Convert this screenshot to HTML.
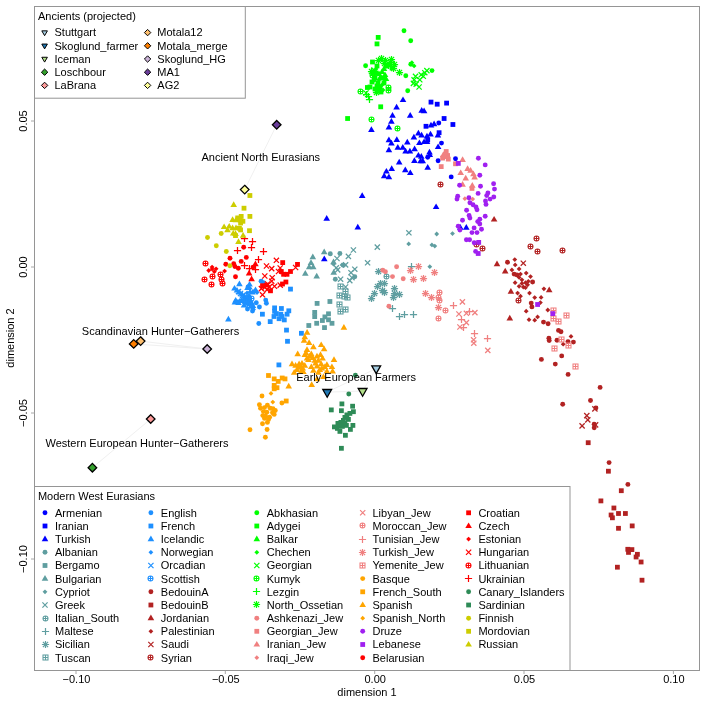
<!DOCTYPE html>
<html><head><meta charset="utf-8"><title>PCA West Eurasians</title>
<style>html,body{margin:0;padding:0;background:#fff}svg{display:block}text{font-family:"Liberation Sans",sans-serif;fill:#000}</style></head><body>
<svg width="706" height="702" viewBox="0 0 706 702">
<rect width="706" height="702" fill="#fff"/>
<g stroke="#f0f0f0" stroke-width="1" fill="none"><path d="M276.7 124.8L244.7 189.6"/><path d="M133.7 343.9L207.2 349"/><path d="M140.6 341.1L207.2 349"/><path d="M150.7 419L92.4 467.7"/><path d="M376.2 368.5L327.2 392.1"/><path d="M327.2 392.1L362.6 391.1"/><path d="M362.6 391.1L376.2 368.5"/></g>
<g stroke-width="1.25">
<circle cx="438.8" cy="123" r="2.45" fill="#0000FF"/><circle cx="441.5" cy="143.1" r="2.45" fill="#0000FF"/><circle cx="427.7" cy="157.2" r="2.45" fill="#0000FF"/><circle cx="438.1" cy="160.8" r="2.45" fill="#0000FF"/><circle cx="455.5" cy="158.8" r="2.45" fill="#0000FF"/><circle cx="451.2" cy="176.9" r="2.45" fill="#0000FF"/>
<rect x="428.6" y="99.7" width="4.8" height="4.8" fill="#0000FF"/><rect x="434.8" y="101.8" width="4.8" height="4.8" fill="#0000FF"/><rect x="444.2" y="100.7" width="4.8" height="4.8" fill="#0000FF"/><rect x="441.7" y="116.1" width="4.8" height="4.8" fill="#0000FF"/><rect x="450.5" y="122.1" width="4.8" height="4.8" fill="#0000FF"/><rect x="423.6" y="123.9" width="4.8" height="4.8" fill="#0000FF"/><rect x="436.7" y="130.3" width="4.8" height="4.8" fill="#0000FF"/><rect x="425.3" y="137.5" width="4.8" height="4.8" fill="#0000FF"/>
<path d="M403 96.4l3.3 5.7h-6.6z" fill="#0000FF"/><path d="M396.6 103.8l3.3 5.7h-6.6z" fill="#0000FF"/><path d="M392.5 112l3.3 5.7h-6.6z" fill="#0000FF"/><path d="M410.2 112l3.3 5.7h-6.6z" fill="#0000FF"/><path d="M421.7 107.1l3.3 5.7h-6.6z" fill="#0000FF"/><path d="M424.1 107.5l3.3 5.7h-6.6z" fill="#0000FF"/><path d="M391.4 118l3.3 5.7h-6.6z" fill="#0000FF"/><path d="M388.9 123.7l3.3 5.7h-6.6z" fill="#0000FF"/><path d="M371.4 126.3l3.3 5.7h-6.6z" fill="#0000FF"/><path d="M431 121.7l3.3 5.7h-6.6z" fill="#0000FF"/><path d="M434.1 120.6l3.3 5.7h-6.6z" fill="#0000FF"/><path d="M418.4 129.8l3.3 5.7h-6.6z" fill="#0000FF"/><path d="M421.6 131.7l3.3 5.7h-6.6z" fill="#0000FF"/><path d="M413.9 133.8l3.3 5.7h-6.6z" fill="#0000FF"/><path d="M427 132.7l3.3 5.7h-6.6z" fill="#0000FF"/><path d="M430.5 130.8l3.3 5.7h-6.6z" fill="#0000FF"/><path d="M388.9 136.5l3.3 5.7h-6.6z" fill="#0000FF"/><path d="M396.8 136.3l3.3 5.7h-6.6z" fill="#0000FF"/><path d="M391.4 139.8l3.3 5.7h-6.6z" fill="#0000FF"/><path d="M407.3 138.8l3.3 5.7h-6.6z" fill="#0000FF"/><path d="M419.4 139.4l3.3 5.7h-6.6z" fill="#0000FF"/><path d="M424.1 138.4l3.3 5.7h-6.6z" fill="#0000FF"/><path d="M427 138.4l3.3 5.7h-6.6z" fill="#0000FF"/><path d="M437.9 131.7l3.3 5.7h-6.6z" fill="#0000FF"/><path d="M397.8 144.1l3.3 5.7h-6.6z" fill="#0000FF"/><path d="M402.8 144.1l3.3 5.7h-6.6z" fill="#0000FF"/><path d="M388.9 146.5l3.3 5.7h-6.6z" fill="#0000FF"/><path d="M405.6 147.7l3.3 5.7h-6.6z" fill="#0000FF"/><path d="M409.9 147.7l3.3 5.7h-6.6z" fill="#0000FF"/><path d="M414.6 145.5l3.3 5.7h-6.6z" fill="#0000FF"/><path d="M438.1 143.4l3.3 5.7h-6.6z" fill="#0000FF"/><path d="M429.5 148.7l3.3 5.7h-6.6z" fill="#0000FF"/><path d="M429.8 151.2l3.3 5.7h-6.6z" fill="#0000FF"/><path d="M418.4 151.9l3.3 5.7h-6.6z" fill="#0000FF"/><path d="M421.3 153.1l3.3 5.7h-6.6z" fill="#0000FF"/><path d="M414.4 157.2l3.3 5.7h-6.6z" fill="#0000FF"/><path d="M420.6 157.6l3.3 5.7h-6.6z" fill="#0000FF"/><path d="M422.7 157.6l3.3 5.7h-6.6z" fill="#0000FF"/><path d="M399.2 158.8l3.3 5.7h-6.6z" fill="#0000FF"/><path d="M427.7 164l3.3 5.7h-6.6z" fill="#0000FF"/><path d="M391.7 165.2l3.3 5.7h-6.6z" fill="#0000FF"/><path d="M405.3 166.5l3.3 5.7h-6.6z" fill="#0000FF"/><path d="M410.3 169.4l3.3 5.7h-6.6z" fill="#0000FF"/><path d="M386.4 167.9l3.3 5.7h-6.6z" fill="#0000FF"/><path d="M384.2 172.6l3.3 5.7h-6.6z" fill="#0000FF"/><path d="M388.9 173.6l3.3 5.7h-6.6z" fill="#0000FF"/><path d="M436.1 203.4l3.3 5.7h-6.6z" fill="#0000FF"/><path d="M460.3 224l3.3 5.7h-6.6z" fill="#0000FF"/><path d="M466.3 224l3.3 5.7h-6.6z" fill="#0000FF"/><path d="M362.2 192.2l3.3 5.7h-6.6z" fill="#0000FF"/><path d="M326.7 215.1l3.3 5.7h-6.6z" fill="#0000FF"/><path d="M357.8 223.7l3.3 5.7h-6.6z" fill="#0000FF"/><path d="M324.3 255.6l3.3 5.7h-6.6z" fill="#0000FF"/>
<circle cx="330.3" cy="253.8" r="2.45" fill="#5F9EA0"/><circle cx="339.9" cy="253.5" r="2.45" fill="#5F9EA0"/><circle cx="343.4" cy="265.2" r="2.45" fill="#5F9EA0"/><circle cx="335.3" cy="279.2" r="2.45" fill="#5F9EA0"/><circle cx="354.8" cy="276.7" r="2.45" fill="#5F9EA0"/>
<rect x="314.7" y="301" width="4.8" height="4.8" fill="#5F9EA0"/><rect x="327.5" y="299.1" width="4.8" height="4.8" fill="#5F9EA0"/><rect x="312.3" y="310" width="4.8" height="4.8" fill="#5F9EA0"/><rect x="312.3" y="314.2" width="4.8" height="4.8" fill="#5F9EA0"/><rect x="326.1" y="311.4" width="4.8" height="4.8" fill="#5F9EA0"/><rect x="322.5" y="314.5" width="4.8" height="4.8" fill="#5F9EA0"/><rect x="320" y="318.1" width="4.8" height="4.8" fill="#5F9EA0"/><rect x="326.1" y="317.4" width="4.8" height="4.8" fill="#5F9EA0"/><rect x="314.3" y="320.9" width="4.8" height="4.8" fill="#5F9EA0"/><rect x="329.6" y="320.9" width="4.8" height="4.8" fill="#5F9EA0"/><rect x="306.4" y="323.1" width="4.8" height="4.8" fill="#5F9EA0"/><rect x="322.1" y="325.2" width="4.8" height="4.8" fill="#5F9EA0"/>
<path d="M324.2 248.5l3.3 5.7h-6.6z" fill="#5F9EA0"/><path d="M312.8 253.5l3.3 5.7h-6.6z" fill="#5F9EA0"/><path d="M311 259.2l3.3 5.7h-6.6z" fill="#5F9EA0"/><path d="M309.2 263.5l3.3 5.7h-6.6z" fill="#5F9EA0"/><path d="M313.2 263.5l3.3 5.7h-6.6z" fill="#5F9EA0"/><path d="M305.3 270.1l3.3 5.7h-6.6z" fill="#5F9EA0"/><path d="M316.7 272.7l3.3 5.7h-6.6z" fill="#5F9EA0"/><path d="M333.5 258.5l3.3 5.7h-6.6z" fill="#5F9EA0"/><path d="M333.7 269.1l3.3 5.7h-6.6z" fill="#5F9EA0"/>
<path d="M436.7 231.6l2.4 2.4l-2.4 2.4l-2.4 -2.4z" fill="#5F9EA0"/><path d="M452.5 231.2l2.4 2.4l-2.4 2.4l-2.4 -2.4z" fill="#5F9EA0"/><path d="M333.5 261.8l2.4 2.4l-2.4 2.4l-2.4 -2.4z" fill="#5F9EA0"/><path d="M342 262.5l2.4 2.4l-2.4 2.4l-2.4 -2.4z" fill="#5F9EA0"/><path d="M408.7 241.5l2.4 2.4l-2.4 2.4l-2.4 -2.4z" fill="#5F9EA0"/><path d="M431.9 242.5l2.4 2.4l-2.4 2.4l-2.4 -2.4z" fill="#5F9EA0"/><path d="M434.8 243.7l2.4 2.4l-2.4 2.4l-2.4 -2.4z" fill="#5F9EA0"/><path d="M429.8 264.3l2.4 2.4l-2.4 2.4l-2.4 -2.4z" fill="#5F9EA0"/>
<path d="M350.8 247.4l5.2 5.2m0 -5.2l-5.2 5.2" stroke="#5F9EA0" fill="none"/><path d="M374.7 244.5l5.2 5.2m0 -5.2l-5.2 5.2" stroke="#5F9EA0" fill="none"/><path d="M345.8 253.8l5.2 5.2m0 -5.2l-5.2 5.2" stroke="#5F9EA0" fill="none"/><path d="M365 260.2l5.2 5.2m0 -5.2l-5.2 5.2" stroke="#5F9EA0" fill="none"/><path d="M334.4 255.9l5.2 5.2m0 -5.2l-5.2 5.2" stroke="#5F9EA0" fill="none"/><path d="M335.1 267.3l5.2 5.2m0 -5.2l-5.2 5.2" stroke="#5F9EA0" fill="none"/><path d="M343 262.3l5.2 5.2m0 -5.2l-5.2 5.2" stroke="#5F9EA0" fill="none"/><path d="M352.2 266.6l5.2 5.2m0 -5.2l-5.2 5.2" stroke="#5F9EA0" fill="none"/><path d="M348.4 270.1l5.2 5.2m0 -5.2l-5.2 5.2" stroke="#5F9EA0" fill="none"/><path d="M338 276.6l5.2 5.2m0 -5.2l-5.2 5.2" stroke="#5F9EA0" fill="none"/><path d="M347.2 278l5.2 5.2m0 -5.2l-5.2 5.2" stroke="#5F9EA0" fill="none"/><path d="M349.4 275.1l5.2 5.2m0 -5.2l-5.2 5.2" stroke="#5F9EA0" fill="none"/><path d="M333.7 265.2l5.2 5.2m0 -5.2l-5.2 5.2" stroke="#5F9EA0" fill="none"/><path d="M343 284.4l5.2 5.2m0 -5.2l-5.2 5.2" stroke="#5F9EA0" fill="none"/><path d="M406.3 230.2l5.2 5.2m0 -5.2l-5.2 5.2" stroke="#5F9EA0" fill="none"/>
<g stroke="#5F9EA0" stroke-width="1.05" fill="none"><circle cx="386.5" cy="276.5" r="2.5"/><path d="M384 276.5h5m-2.5 -2.5v5"/></g>
<path d="M407.9 266.5h7.2m-3.6 -3.6v7.2" stroke="#5F9EA0" fill="none"/><path d="M388.9 308.5h7.2m-3.6 -3.6v7.2" stroke="#5F9EA0" fill="none"/><path d="M395.9 316.5h7.2m-3.6 -3.6v7.2" stroke="#5F9EA0" fill="none"/><path d="M400.9 314.5h7.2m-3.6 -3.6v7.2" stroke="#5F9EA0" fill="none"/><path d="M409.9 314.5h7.2m-3.6 -3.6v7.2" stroke="#5F9EA0" fill="none"/>
<path d="M374.9 271.5h7.2m-3.6 -3.6v7.2m-2.6 -6.2l5.2 5.2m0 -5.2l-5.2 5.2" stroke="#5F9EA0" fill="none"/><path d="M376.9 283.5h7.2m-3.6 -3.6v7.2m-2.6 -6.2l5.2 5.2m0 -5.2l-5.2 5.2" stroke="#5F9EA0" fill="none"/><path d="M373.9 286.5h7.2m-3.6 -3.6v7.2m-2.6 -6.2l5.2 5.2m0 -5.2l-5.2 5.2" stroke="#5F9EA0" fill="none"/><path d="M380.9 283.5h7.2m-3.6 -3.6v7.2m-2.6 -6.2l5.2 5.2m0 -5.2l-5.2 5.2" stroke="#5F9EA0" fill="none"/><path d="M370.9 293.5h7.2m-3.6 -3.6v7.2m-2.6 -6.2l5.2 5.2m0 -5.2l-5.2 5.2" stroke="#5F9EA0" fill="none"/><path d="M367.9 298.5h7.2m-3.6 -3.6v7.2m-2.6 -6.2l5.2 5.2m0 -5.2l-5.2 5.2" stroke="#5F9EA0" fill="none"/><path d="M378.9 290.5h7.2m-3.6 -3.6v7.2m-2.6 -6.2l5.2 5.2m0 -5.2l-5.2 5.2" stroke="#5F9EA0" fill="none"/><path d="M380.9 292.5h7.2m-3.6 -3.6v7.2m-2.6 -6.2l5.2 5.2m0 -5.2l-5.2 5.2" stroke="#5F9EA0" fill="none"/><path d="M390.9 288.5h7.2m-3.6 -3.6v7.2m-2.6 -6.2l5.2 5.2m0 -5.2l-5.2 5.2" stroke="#5F9EA0" fill="none"/><path d="M390.9 293.5h7.2m-3.6 -3.6v7.2m-2.6 -6.2l5.2 5.2m0 -5.2l-5.2 5.2" stroke="#5F9EA0" fill="none"/><path d="M395.9 294.5h7.2m-3.6 -3.6v7.2m-2.6 -6.2l5.2 5.2m0 -5.2l-5.2 5.2" stroke="#5F9EA0" fill="none"/><path d="M389.9 297.5h7.2m-3.6 -3.6v7.2m-2.6 -6.2l5.2 5.2m0 -5.2l-5.2 5.2" stroke="#5F9EA0" fill="none"/>
<g stroke="#5F9EA0" stroke-width="1.05" fill="none"><rect x="338" y="284" width="5" height="5"/><path d="M338 286.5h5m-2.5 -2.5v5"/></g><g stroke="#5F9EA0" stroke-width="1.05" fill="none"><rect x="343" y="289" width="5" height="5"/><path d="M343 291.5h5m-2.5 -2.5v5"/></g><g stroke="#5F9EA0" stroke-width="1.05" fill="none"><rect x="337" y="293" width="5" height="5"/><path d="M337 295.5h5m-2.5 -2.5v5"/></g><g stroke="#5F9EA0" stroke-width="1.05" fill="none"><rect x="342" y="294" width="5" height="5"/><path d="M342 296.5h5m-2.5 -2.5v5"/></g><g stroke="#5F9EA0" stroke-width="1.05" fill="none"><rect x="345" y="295" width="5" height="5"/><path d="M345 297.5h5m-2.5 -2.5v5"/></g><g stroke="#5F9EA0" stroke-width="1.05" fill="none"><rect x="337" y="302" width="5" height="5"/><path d="M337 304.5h5m-2.5 -2.5v5"/></g><g stroke="#5F9EA0" stroke-width="1.05" fill="none"><rect x="343" y="307" width="5" height="5"/><path d="M343 309.5h5m-2.5 -2.5v5"/></g><g stroke="#5F9EA0" stroke-width="1.05" fill="none"><rect x="338" y="309" width="5" height="5"/><path d="M338 311.5h5m-2.5 -2.5v5"/></g>
<circle cx="261.1" cy="281.3" r="2.45" fill="#1E90FF"/><circle cx="259.4" cy="307" r="2.45" fill="#1E90FF"/><circle cx="252.5" cy="311" r="2.45" fill="#1E90FF"/><circle cx="258.8" cy="323.5" r="2.45" fill="#1E90FF"/><circle cx="265.7" cy="300.1" r="2.45" fill="#1E90FF"/><circle cx="256.3" cy="302.8" r="2.45" fill="#1E90FF"/><circle cx="247.5" cy="309" r="2.45" fill="#1E90FF"/><circle cx="263.4" cy="282.7" r="2.45" fill="#1E90FF"/><circle cx="252.5" cy="307.5" r="2.45" fill="#1E90FF"/><circle cx="248" cy="287" r="2.45" fill="#1E90FF"/><circle cx="266.4" cy="303.2" r="2.45" fill="#1E90FF"/><circle cx="249" cy="297" r="2.45" fill="#1E90FF"/><circle cx="245" cy="300" r="2.45" fill="#1E90FF"/>
<rect x="288.1" y="286.7" width="4.8" height="4.8" fill="#1E90FF"/><rect x="260" y="311.8" width="4.8" height="4.8" fill="#1E90FF"/><rect x="267.8" y="319.2" width="4.8" height="4.8" fill="#1E90FF"/><rect x="272.2" y="305.5" width="4.8" height="4.8" fill="#1E90FF"/><rect x="272.2" y="308.9" width="4.8" height="4.8" fill="#1E90FF"/><rect x="279" y="306.1" width="4.8" height="4.8" fill="#1E90FF"/><rect x="286.4" y="308.4" width="4.8" height="4.8" fill="#1E90FF"/><rect x="273.9" y="311.2" width="4.8" height="4.8" fill="#1E90FF"/><rect x="271.6" y="314.1" width="4.8" height="4.8" fill="#1E90FF"/><rect x="278.4" y="311.8" width="4.8" height="4.8" fill="#1E90FF"/><rect x="284.7" y="311.8" width="4.8" height="4.8" fill="#1E90FF"/><rect x="276.7" y="316.3" width="4.8" height="4.8" fill="#1E90FF"/><rect x="281.9" y="317.5" width="4.8" height="4.8" fill="#1E90FF"/><rect x="279.6" y="314.1" width="4.8" height="4.8" fill="#1E90FF"/><rect x="284.1" y="327.7" width="4.8" height="4.8" fill="#1E90FF"/><rect x="299" y="330.9" width="4.8" height="4.8" fill="#1E90FF"/><rect x="285.1" y="338.9" width="4.8" height="4.8" fill="#1E90FF"/><rect x="276.5" y="362.5" width="4.8" height="4.8" fill="#1E90FF"/>
<path d="M228.4 315.7l3.3 5.7h-6.6z" fill="#1E90FF"/><path d="M239.4 280.6l3.3 5.7h-6.6z" fill="#1E90FF"/><path d="M234.9 298.8l3.3 5.7h-6.6z" fill="#1E90FF"/><path d="M234.5 284.9l3.3 5.7h-6.6z" fill="#1E90FF"/><path d="M237 286.9l3.3 5.7h-6.6z" fill="#1E90FF"/><path d="M239.5 288.9l3.3 5.7h-6.6z" fill="#1E90FF"/><path d="M242 290.9l3.3 5.7h-6.6z" fill="#1E90FF"/><path d="M244.5 292.9l3.3 5.7h-6.6z" fill="#1E90FF"/><path d="M247 294.9l3.3 5.7h-6.6z" fill="#1E90FF"/><path d="M249.5 296.9l3.3 5.7h-6.6z" fill="#1E90FF"/><path d="M251.5 299.4l3.3 5.7h-6.6z" fill="#1E90FF"/><path d="M253 302.4l3.3 5.7h-6.6z" fill="#1E90FF"/><path d="M235.7 296.9l3.3 5.7h-6.6z" fill="#1E90FF"/><path d="M238.5 299.4l3.3 5.7h-6.6z" fill="#1E90FF"/><path d="M241.5 297.4l3.3 5.7h-6.6z" fill="#1E90FF"/><path d="M255.5 286.4l3.3 5.7h-6.6z" fill="#1E90FF"/><path d="M252.5 288.9l3.3 5.7h-6.6z" fill="#1E90FF"/><path d="M249.5 280.9l3.3 5.7h-6.6z" fill="#1E90FF"/><path d="M247.5 284.4l3.3 5.7h-6.6z" fill="#1E90FF"/><path d="M244 301.9l3.3 5.7h-6.6z" fill="#1E90FF"/><path d="M246 298.4l3.3 5.7h-6.6z" fill="#1E90FF"/>
<path d="M237 299.1l2.4 2.4l-2.4 2.4l-2.4 -2.4z" fill="#1E90FF"/><path d="M240 298.1l2.4 2.4l-2.4 2.4l-2.4 -2.4z" fill="#1E90FF"/><path d="M252 303.6l2.4 2.4l-2.4 2.4l-2.4 -2.4z" fill="#1E90FF"/><path d="M253.5 307.1l2.4 2.4l-2.4 2.4l-2.4 -2.4z" fill="#1E90FF"/><path d="M257 290.1l2.4 2.4l-2.4 2.4l-2.4 -2.4z" fill="#1E90FF"/><path d="M250 286.1l2.4 2.4l-2.4 2.4l-2.4 -2.4z" fill="#1E90FF"/><path d="M247 290.6l2.4 2.4l-2.4 2.4l-2.4 -2.4z" fill="#1E90FF"/><path d="M254 289.1l2.4 2.4l-2.4 2.4l-2.4 -2.4z" fill="#1E90FF"/><path d="M250 289.6l2.4 2.4l-2.4 2.4l-2.4 -2.4z" fill="#1E90FF"/><path d="M248 301.6l2.4 2.4l-2.4 2.4l-2.4 -2.4z" fill="#1E90FF"/>
<path d="M235.9 288.9l5.2 5.2m0 -5.2l-5.2 5.2" stroke="#1E90FF" fill="none"/><path d="M237.9 290.9l5.2 5.2m0 -5.2l-5.2 5.2" stroke="#1E90FF" fill="none"/><path d="M239.9 292.9l5.2 5.2m0 -5.2l-5.2 5.2" stroke="#1E90FF" fill="none"/><path d="M241.9 294.9l5.2 5.2m0 -5.2l-5.2 5.2" stroke="#1E90FF" fill="none"/><path d="M243.9 296.9l5.2 5.2m0 -5.2l-5.2 5.2" stroke="#1E90FF" fill="none"/><path d="M245.9 298.9l5.2 5.2m0 -5.2l-5.2 5.2" stroke="#1E90FF" fill="none"/><path d="M247.9 300.9l5.2 5.2m0 -5.2l-5.2 5.2" stroke="#1E90FF" fill="none"/><path d="M240.4 296.9l5.2 5.2m0 -5.2l-5.2 5.2" stroke="#1E90FF" fill="none"/><path d="M246.4 292.4l5.2 5.2m0 -5.2l-5.2 5.2" stroke="#1E90FF" fill="none"/>
<g stroke="#1E90FF" stroke-width="1.05" fill="none"><circle cx="246.5" cy="302.5" r="2.5"/><path d="M244 302.5h5m-2.5 -2.5v5"/></g><g stroke="#1E90FF" stroke-width="1.05" fill="none"><circle cx="249.5" cy="305.5" r="2.5"/><path d="M247 305.5h5m-2.5 -2.5v5"/></g><g stroke="#1E90FF" stroke-width="1.05" fill="none"><circle cx="251.5" cy="298.5" r="2.5"/><path d="M249 298.5h5m-2.5 -2.5v5"/></g><g stroke="#1E90FF" stroke-width="1.05" fill="none"><circle cx="244.5" cy="301.5" r="2.5"/><path d="M242 301.5h5m-2.5 -2.5v5"/></g>
<circle cx="507.5" cy="262.3" r="2.45" fill="#B22222"/><circle cx="514.1" cy="274.1" r="2.45" fill="#B22222"/><circle cx="516.9" cy="274.9" r="2.45" fill="#B22222"/><circle cx="532.6" cy="282" r="2.45" fill="#B22222"/><circle cx="531.9" cy="306.9" r="2.45" fill="#B22222"/><circle cx="531.2" cy="303.1" r="2.45" fill="#B22222"/><circle cx="543.5" cy="322.1" r="2.45" fill="#B22222"/><circle cx="548.1" cy="323.8" r="2.45" fill="#B22222"/><circle cx="558.5" cy="330.4" r="2.45" fill="#B22222"/><circle cx="561" cy="331.7" r="2.45" fill="#B22222"/><circle cx="548.9" cy="338.2" r="2.45" fill="#B22222"/><circle cx="549.2" cy="340.6" r="2.45" fill="#B22222"/><circle cx="557" cy="340.3" r="2.45" fill="#B22222"/><circle cx="573.4" cy="342.1" r="2.45" fill="#B22222"/><circle cx="568" cy="341.6" r="2.45" fill="#B22222"/><circle cx="561.7" cy="355.9" r="2.45" fill="#B22222"/><circle cx="541.4" cy="359.4" r="2.45" fill="#B22222"/><circle cx="555.3" cy="364.1" r="2.45" fill="#B22222"/><circle cx="568.1" cy="374.4" r="2.45" fill="#B22222"/><circle cx="600.1" cy="387.4" r="2.45" fill="#B22222"/><circle cx="590.5" cy="400.5" r="2.45" fill="#B22222"/><circle cx="562.7" cy="404.3" r="2.45" fill="#B22222"/><circle cx="595.9" cy="408" r="2.45" fill="#B22222"/><circle cx="594.2" cy="424.2" r="2.45" fill="#B22222"/><circle cx="594.2" cy="427.7" r="2.45" fill="#B22222"/><circle cx="609.1" cy="462.6" r="2.45" fill="#B22222"/><circle cx="627.9" cy="484.4" r="2.45" fill="#B22222"/>
<rect x="585.8" y="440.3" width="4.8" height="4.8" fill="#B22222"/><rect x="606" y="468.8" width="4.8" height="4.8" fill="#B22222"/><rect x="618.9" y="488.3" width="4.8" height="4.8" fill="#B22222"/><rect x="598.5" y="498.5" width="4.8" height="4.8" fill="#B22222"/><rect x="611.5" y="505.6" width="4.8" height="4.8" fill="#B22222"/><rect x="616.1" y="511.1" width="4.8" height="4.8" fill="#B22222"/><rect x="623" y="511.1" width="4.8" height="4.8" fill="#B22222"/><rect x="608.7" y="512.6" width="4.8" height="4.8" fill="#B22222"/><rect x="610" y="515.4" width="4.8" height="4.8" fill="#B22222"/><rect x="616.1" y="525.9" width="4.8" height="4.8" fill="#B22222"/><rect x="629.8" y="523.5" width="4.8" height="4.8" fill="#B22222"/><rect x="625.4" y="546.9" width="4.8" height="4.8" fill="#B22222"/><rect x="629.5" y="547.2" width="4.8" height="4.8" fill="#B22222"/><rect x="626.1" y="550" width="4.8" height="4.8" fill="#B22222"/><rect x="635" y="551.9" width="4.8" height="4.8" fill="#B22222"/><rect x="633.7" y="554.6" width="4.8" height="4.8" fill="#B22222"/><rect x="638.7" y="559.6" width="4.8" height="4.8" fill="#B22222"/><rect x="615" y="564.8" width="4.8" height="4.8" fill="#B22222"/><rect x="639.6" y="577.8" width="4.8" height="4.8" fill="#B22222"/>
<path d="M494.1 215.9l3.3 5.7h-6.6z" fill="#B22222"/><path d="M497 260.6l3.3 5.7h-6.6z" fill="#B22222"/><path d="M505.2 267.7l3.3 5.7h-6.6z" fill="#B22222"/><path d="M510.9 288.1l3.3 5.7h-6.6z" fill="#B22222"/><path d="M509.8 314.7l3.3 5.7h-6.6z" fill="#B22222"/><path d="M549.2 286.6l3.3 5.7h-6.6z" fill="#B22222"/>
<path d="M514.8 257.2l2.4 2.4l-2.4 2.4l-2.4 -2.4z" fill="#B22222"/><path d="M515.2 262.5l2.4 2.4l-2.4 2.4l-2.4 -2.4z" fill="#B22222"/><path d="M511.9 267.5l2.4 2.4l-2.4 2.4l-2.4 -2.4z" fill="#B22222"/><path d="M519.1 266.5l2.4 2.4l-2.4 2.4l-2.4 -2.4z" fill="#B22222"/><path d="M520.5 271.7l2.4 2.4l-2.4 2.4l-2.4 -2.4z" fill="#B22222"/><path d="M526.2 270.7l2.4 2.4l-2.4 2.4l-2.4 -2.4z" fill="#B22222"/><path d="M530.5 274.2l2.4 2.4l-2.4 2.4l-2.4 -2.4z" fill="#B22222"/><path d="M519.1 275l2.4 2.4l-2.4 2.4l-2.4 -2.4z" fill="#B22222"/><path d="M521.9 277.4l2.4 2.4l-2.4 2.4l-2.4 -2.4z" fill="#B22222"/><path d="M515.1 280.3l2.4 2.4l-2.4 2.4l-2.4 -2.4z" fill="#B22222"/><path d="M521.9 281l2.4 2.4l-2.4 2.4l-2.4 -2.4z" fill="#B22222"/><path d="M525.5 280.3l2.4 2.4l-2.4 2.4l-2.4 -2.4z" fill="#B22222"/><path d="M528.3 278.9l2.4 2.4l-2.4 2.4l-2.4 -2.4z" fill="#B22222"/><path d="M519.1 283.9l2.4 2.4l-2.4 2.4l-2.4 -2.4z" fill="#B22222"/><path d="M523.3 284.6l2.4 2.4l-2.4 2.4l-2.4 -2.4z" fill="#B22222"/><path d="M525.5 285.3l2.4 2.4l-2.4 2.4l-2.4 -2.4z" fill="#B22222"/><path d="M527.6 282.4l2.4 2.4l-2.4 2.4l-2.4 -2.4z" fill="#B22222"/><path d="M517.6 290.7l2.4 2.4l-2.4 2.4l-2.4 -2.4z" fill="#B22222"/><path d="M520.5 293.8l2.4 2.4l-2.4 2.4l-2.4 -2.4z" fill="#B22222"/><path d="M529.5 290.7l2.4 2.4l-2.4 2.4l-2.4 -2.4z" fill="#B22222"/><path d="M534.7 295.2l2.4 2.4l-2.4 2.4l-2.4 -2.4z" fill="#B22222"/><path d="M526.2 308.8l2.4 2.4l-2.4 2.4l-2.4 -2.4z" fill="#B22222"/><path d="M529 317.3l2.4 2.4l-2.4 2.4l-2.4 -2.4z" fill="#B22222"/><path d="M534.7 317.8l2.4 2.4l-2.4 2.4l-2.4 -2.4z" fill="#B22222"/><path d="M537.6 314.5l2.4 2.4l-2.4 2.4l-2.4 -2.4z" fill="#B22222"/><path d="M543.9 286.4l2.4 2.4l-2.4 2.4l-2.4 -2.4z" fill="#B22222"/><path d="M541.1 295l2.4 2.4l-2.4 2.4l-2.4 -2.4z" fill="#B22222"/><path d="M540.4 300.2l2.4 2.4l-2.4 2.4l-2.4 -2.4z" fill="#B22222"/><path d="M547.8 307.6l2.4 2.4l-2.4 2.4l-2.4 -2.4z" fill="#B22222"/><path d="M571 334l2.4 2.4l-2.4 2.4l-2.4 -2.4z" fill="#B22222"/><path d="M563.2 341.8l2.4 2.4l-2.4 2.4l-2.4 -2.4z" fill="#B22222"/>
<path d="M520.7 260.6l5.2 5.2m0 -5.2l-5.2 5.2" stroke="#B22222" fill="none"/><path d="M592.3 406.3l5.2 5.2m0 -5.2l-5.2 5.2" stroke="#B22222" fill="none"/><path d="M584.2 413l5.2 5.2m0 -5.2l-5.2 5.2" stroke="#B22222" fill="none"/><path d="M585.2 417.3l5.2 5.2m0 -5.2l-5.2 5.2" stroke="#B22222" fill="none"/><path d="M579.5 423.3l5.2 5.2m0 -5.2l-5.2 5.2" stroke="#B22222" fill="none"/><path d="M593 422.3l5.2 5.2m0 -5.2l-5.2 5.2" stroke="#B22222" fill="none"/>
<g stroke="#B22222" stroke-width="1.05" fill="none"><circle cx="440.5" cy="184.5" r="2.5"/><path d="M438 184.5h5m-2.5 -2.5v5"/></g><g stroke="#B22222" stroke-width="1.05" fill="none"><circle cx="476.5" cy="244.5" r="2.5"/><path d="M474 244.5h5m-2.5 -2.5v5"/></g><g stroke="#B22222" stroke-width="1.05" fill="none"><circle cx="482.5" cy="248.5" r="2.5"/><path d="M480 248.5h5m-2.5 -2.5v5"/></g><g stroke="#B22222" stroke-width="1.05" fill="none"><circle cx="536.5" cy="238.5" r="2.5"/><path d="M534 238.5h5m-2.5 -2.5v5"/></g><g stroke="#B22222" stroke-width="1.05" fill="none"><circle cx="530.5" cy="246.5" r="2.5"/><path d="M528 246.5h5m-2.5 -2.5v5"/></g><g stroke="#B22222" stroke-width="1.05" fill="none"><circle cx="537.5" cy="251.5" r="2.5"/><path d="M535 251.5h5m-2.5 -2.5v5"/></g><g stroke="#B22222" stroke-width="1.05" fill="none"><circle cx="518.5" cy="300.5" r="2.5"/><path d="M516 300.5h5m-2.5 -2.5v5"/></g><g stroke="#B22222" stroke-width="1.05" fill="none"><circle cx="562.5" cy="250.5" r="2.5"/><path d="M560 250.5h5m-2.5 -2.5v5"/></g>
<circle cx="404" cy="30.7" r="2.45" fill="#00FF00"/><circle cx="410.7" cy="40.8" r="2.45" fill="#00FF00"/><circle cx="365.6" cy="65.7" r="2.45" fill="#00FF00"/><circle cx="405.8" cy="75.7" r="2.45" fill="#00FF00"/><circle cx="407.7" cy="90.8" r="2.45" fill="#00FF00"/><circle cx="432" cy="70.6" r="2.45" fill="#00FF00"/><circle cx="410.8" cy="64.2" r="2.45" fill="#00FF00"/><circle cx="374" cy="80" r="2.45" fill="#00FF00"/><circle cx="378" cy="88" r="2.45" fill="#00FF00"/>
<rect x="378.3" y="104.4" width="4.8" height="4.8" fill="#00FF00"/><rect x="375.8" y="35" width="4.8" height="4.8" fill="#00FF00"/><rect x="374.6" y="41.5" width="4.8" height="4.8" fill="#00FF00"/><rect x="345.2" y="116.1" width="4.8" height="4.8" fill="#00FF00"/><rect x="365" y="85.1" width="4.8" height="4.8" fill="#00FF00"/><rect x="370.1" y="59.6" width="4.8" height="4.8" fill="#00FF00"/><rect x="374.6" y="63.6" width="4.8" height="4.8" fill="#00FF00"/><rect x="370.6" y="69.6" width="4.8" height="4.8" fill="#00FF00"/><rect x="372.6" y="75.6" width="4.8" height="4.8" fill="#00FF00"/><rect x="375.6" y="80.6" width="4.8" height="4.8" fill="#00FF00"/><rect x="377.6" y="84.6" width="4.8" height="4.8" fill="#00FF00"/><rect x="367.6" y="84.6" width="4.8" height="4.8" fill="#00FF00"/><rect x="372.6" y="86.6" width="4.8" height="4.8" fill="#00FF00"/><rect x="376.6" y="88.6" width="4.8" height="4.8" fill="#00FF00"/><rect x="380.6" y="75.6" width="4.8" height="4.8" fill="#00FF00"/><rect x="381.6" y="80.6" width="4.8" height="4.8" fill="#00FF00"/><rect x="389.6" y="65.6" width="4.8" height="4.8" fill="#00FF00"/><rect x="383.6" y="63.6" width="4.8" height="4.8" fill="#00FF00"/><rect x="369.6" y="79.6" width="4.8" height="4.8" fill="#00FF00"/><rect x="373.6" y="70.6" width="4.8" height="4.8" fill="#00FF00"/><rect x="378.6" y="89.6" width="4.8" height="4.8" fill="#00FF00"/><rect x="374.6" y="83.6" width="4.8" height="4.8" fill="#00FF00"/>
<path d="M385 71.4l3.3 5.7h-6.6z" fill="#00FF00"/><path d="M382 68.4l3.3 5.7h-6.6z" fill="#00FF00"/><path d="M380 74.4l3.3 5.7h-6.6z" fill="#00FF00"/><path d="M384 65.4l3.3 5.7h-6.6z" fill="#00FF00"/><path d="M379 70.4l3.3 5.7h-6.6z" fill="#00FF00"/><path d="M386 75.4l3.3 5.7h-6.6z" fill="#00FF00"/>
<path d="M414.1 63.5l2.4 2.4l-2.4 2.4l-2.4 -2.4z" fill="#00FF00"/><path d="M411.9 60.3l2.4 2.4l-2.4 2.4l-2.4 -2.4z" fill="#00FF00"/><path d="M376 66.6l2.4 2.4l-2.4 2.4l-2.4 -2.4z" fill="#00FF00"/><path d="M379 77.6l2.4 2.4l-2.4 2.4l-2.4 -2.4z" fill="#00FF00"/><path d="M382 82.6l2.4 2.4l-2.4 2.4l-2.4 -2.4z" fill="#00FF00"/><path d="M374 73.6l2.4 2.4l-2.4 2.4l-2.4 -2.4z" fill="#00FF00"/><path d="M383 87.6l2.4 2.4l-2.4 2.4l-2.4 -2.4z" fill="#00FF00"/>
<path d="M411.5 77.2l5.2 5.2m0 -5.2l-5.2 5.2" stroke="#00FF00" fill="none"/><path d="M413.6 81.5l5.2 5.2m0 -5.2l-5.2 5.2" stroke="#00FF00" fill="none"/><path d="M416.5 84.4l5.2 5.2m0 -5.2l-5.2 5.2" stroke="#00FF00" fill="none"/><path d="M418.6 72.2l5.2 5.2m0 -5.2l-5.2 5.2" stroke="#00FF00" fill="none"/><path d="M422.2 70.1l5.2 5.2m0 -5.2l-5.2 5.2" stroke="#00FF00" fill="none"/><path d="M424.3 68l5.2 5.2m0 -5.2l-5.2 5.2" stroke="#00FF00" fill="none"/><path d="M412.9 73.7l5.2 5.2m0 -5.2l-5.2 5.2" stroke="#00FF00" fill="none"/><path d="M417.2 77.2l5.2 5.2m0 -5.2l-5.2 5.2" stroke="#00FF00" fill="none"/><path d="M420.7 73.7l5.2 5.2m0 -5.2l-5.2 5.2" stroke="#00FF00" fill="none"/><path d="M410.8 80.8l5.2 5.2m0 -5.2l-5.2 5.2" stroke="#00FF00" fill="none"/><path d="M363.4 90.4l5.2 5.2m0 -5.2l-5.2 5.2" stroke="#00FF00" fill="none"/><path d="M371.4 67.4l5.2 5.2m0 -5.2l-5.2 5.2" stroke="#00FF00" fill="none"/>
<g stroke="#00FF00" stroke-width="1.05" fill="none"><circle cx="371.5" cy="119.5" r="2.5"/><path d="M369 119.5h5m-2.5 -2.5v5"/></g><g stroke="#00FF00" stroke-width="1.05" fill="none"><circle cx="397.5" cy="128.5" r="2.5"/><path d="M395 128.5h5m-2.5 -2.5v5"/></g><g stroke="#00FF00" stroke-width="1.05" fill="none"><circle cx="360.5" cy="91.5" r="2.5"/><path d="M358 91.5h5m-2.5 -2.5v5"/></g><g stroke="#00FF00" stroke-width="1.05" fill="none"><circle cx="388.5" cy="87.5" r="2.5"/><path d="M386 87.5h5m-2.5 -2.5v5"/></g><g stroke="#00FF00" stroke-width="1.05" fill="none"><circle cx="388.5" cy="90.5" r="2.5"/><path d="M386 90.5h5m-2.5 -2.5v5"/></g><g stroke="#00FF00" stroke-width="1.05" fill="none"><circle cx="372.5" cy="75.5" r="2.5"/><path d="M370 75.5h5m-2.5 -2.5v5"/></g>
<path d="M364.9 96.5h7.2m-3.6 -3.6v7.2" stroke="#00FF00" fill="none"/><path d="M362.9 94.5h7.2m-3.6 -3.6v7.2" stroke="#00FF00" fill="none"/><path d="M365.9 99.5h7.2m-3.6 -3.6v7.2" stroke="#00FF00" fill="none"/>
<path d="M395.9 72.5h7.2m-3.6 -3.6v7.2m-2.6 -6.2l5.2 5.2m0 -5.2l-5.2 5.2" stroke="#00FF00" fill="none"/><path d="M377.9 58.5h7.2m-3.6 -3.6v7.2m-2.6 -6.2l5.2 5.2m0 -5.2l-5.2 5.2" stroke="#00FF00" fill="none"/><path d="M381.9 60.5h7.2m-3.6 -3.6v7.2m-2.6 -6.2l5.2 5.2m0 -5.2l-5.2 5.2" stroke="#00FF00" fill="none"/><path d="M386.9 62.5h7.2m-3.6 -3.6v7.2m-2.6 -6.2l5.2 5.2m0 -5.2l-5.2 5.2" stroke="#00FF00" fill="none"/><path d="M390.9 64.5h7.2m-3.6 -3.6v7.2m-2.6 -6.2l5.2 5.2m0 -5.2l-5.2 5.2" stroke="#00FF00" fill="none"/><path d="M384.9 65.5h7.2m-3.6 -3.6v7.2m-2.6 -6.2l5.2 5.2m0 -5.2l-5.2 5.2" stroke="#00FF00" fill="none"/><path d="M387.9 59.5h7.2m-3.6 -3.6v7.2m-2.6 -6.2l5.2 5.2m0 -5.2l-5.2 5.2" stroke="#00FF00" fill="none"/><path d="M372.9 92.5h7.2m-3.6 -3.6v7.2m-2.6 -6.2l5.2 5.2m0 -5.2l-5.2 5.2" stroke="#00FF00" fill="none"/><path d="M380.9 63.5h7.2m-3.6 -3.6v7.2m-2.6 -6.2l5.2 5.2m0 -5.2l-5.2 5.2" stroke="#00FF00" fill="none"/><path d="M374.9 60.5h7.2m-3.6 -3.6v7.2m-2.6 -6.2l5.2 5.2m0 -5.2l-5.2 5.2" stroke="#00FF00" fill="none"/><path d="M367.9 71.5h7.2m-3.6 -3.6v7.2m-2.6 -6.2l5.2 5.2m0 -5.2l-5.2 5.2" stroke="#00FF00" fill="none"/><path d="M389.9 68.5h7.2m-3.6 -3.6v7.2m-2.6 -6.2l5.2 5.2m0 -5.2l-5.2 5.2" stroke="#00FF00" fill="none"/>
<circle cx="382.8" cy="270.3" r="2.45" fill="#F08080"/><circle cx="385.4" cy="271.7" r="2.45" fill="#F08080"/><circle cx="396.6" cy="266.7" r="2.45" fill="#F08080"/><circle cx="392.5" cy="276.6" r="2.45" fill="#F08080"/><circle cx="403.2" cy="278.8" r="2.45" fill="#F08080"/><circle cx="388.9" cy="306.2" r="2.45" fill="#F08080"/>
<rect x="443.8" y="149.1" width="4.8" height="4.8" fill="#F08080"/><rect x="445.2" y="153.1" width="4.8" height="4.8" fill="#F08080"/><rect x="440.2" y="155.7" width="4.8" height="4.8" fill="#F08080"/><rect x="445.9" y="156.7" width="4.8" height="4.8" fill="#F08080"/><rect x="438.8" y="164.2" width="4.8" height="4.8" fill="#F08080"/><rect x="453.1" y="161.4" width="4.8" height="4.8" fill="#F08080"/><rect x="469.6" y="186" width="4.8" height="4.8" fill="#F08080"/>
<path d="M443.4 151.2l3.3 5.7h-6.6z" fill="#F08080"/><path d="M445.5 153.4l3.3 5.7h-6.6z" fill="#F08080"/><path d="M462.6 156.2l3.3 5.7h-6.6z" fill="#F08080"/><path d="M467.6 165.2l3.3 5.7h-6.6z" fill="#F08080"/><path d="M460.7 169.4l3.3 5.7h-6.6z" fill="#F08080"/><path d="M465.7 174.7l3.3 5.7h-6.6z" fill="#F08080"/><path d="M462.6 181.1l3.3 5.7h-6.6z" fill="#F08080"/><path d="M470.6 167l3.3 5.7h-6.6z" fill="#F08080"/><path d="M473.4 170.6l3.3 5.7h-6.6z" fill="#F08080"/><path d="M474.6 173.7l3.3 5.7h-6.6z" fill="#F08080"/><path d="M472.3 182l3.3 5.7h-6.6z" fill="#F08080"/>
<path d="M464.9 196.3l2.4 2.4l-2.4 2.4l-2.4 -2.4z" fill="#F08080"/><path d="M469.1 196l2.4 2.4l-2.4 2.4l-2.4 -2.4z" fill="#F08080"/><path d="M472.7 196.7l2.4 2.4l-2.4 2.4l-2.4 -2.4z" fill="#F08080"/>
<path d="M459.8 299.3l5.2 5.2m0 -5.2l-5.2 5.2" stroke="#F08080" fill="none"/><path d="M456.3 311.4l5.2 5.2m0 -5.2l-5.2 5.2" stroke="#F08080" fill="none"/><path d="M463.8 310.7l5.2 5.2m0 -5.2l-5.2 5.2" stroke="#F08080" fill="none"/><path d="M472.3 310l5.2 5.2m0 -5.2l-5.2 5.2" stroke="#F08080" fill="none"/><path d="M463.8 320l5.2 5.2m0 -5.2l-5.2 5.2" stroke="#F08080" fill="none"/><path d="M457.3 324.4l5.2 5.2m0 -5.2l-5.2 5.2" stroke="#F08080" fill="none"/><path d="M471 337.2l5.2 5.2m0 -5.2l-5.2 5.2" stroke="#F08080" fill="none"/><path d="M471.2 340.6l5.2 5.2m0 -5.2l-5.2 5.2" stroke="#F08080" fill="none"/><path d="M485.2 347.8l5.2 5.2m0 -5.2l-5.2 5.2" stroke="#F08080" fill="none"/>
<g stroke="#F08080" stroke-width="1.05" fill="none"><circle cx="445.5" cy="310.5" r="2.5"/><path d="M443 310.5h5m-2.5 -2.5v5"/></g><g stroke="#F08080" stroke-width="1.05" fill="none"><circle cx="439.5" cy="292.5" r="2.5"/><path d="M437 292.5h5m-2.5 -2.5v5"/></g><g stroke="#F08080" stroke-width="1.05" fill="none"><circle cx="438.5" cy="297.5" r="2.5"/><path d="M436 297.5h5m-2.5 -2.5v5"/></g><g stroke="#F08080" stroke-width="1.05" fill="none"><circle cx="439.5" cy="300.5" r="2.5"/><path d="M437 300.5h5m-2.5 -2.5v5"/></g><g stroke="#F08080" stroke-width="1.05" fill="none"><circle cx="438.5" cy="318.5" r="2.5"/><path d="M436 318.5h5m-2.5 -2.5v5"/></g>
<path d="M449.9 305.5h7.2m-3.6 -3.6v7.2" stroke="#F08080" fill="none"/><path d="M465.9 311.5h7.2m-3.6 -3.6v7.2" stroke="#F08080" fill="none"/><path d="M457.9 319.5h7.2m-3.6 -3.6v7.2" stroke="#F08080" fill="none"/><path d="M459.9 327.5h7.2m-3.6 -3.6v7.2" stroke="#F08080" fill="none"/><path d="M470.9 333.5h7.2m-3.6 -3.6v7.2" stroke="#F08080" fill="none"/><path d="M483.9 338.5h7.2m-3.6 -3.6v7.2" stroke="#F08080" fill="none"/>
<path d="M406.9 270.5h7.2m-3.6 -3.6v7.2m-2.6 -6.2l5.2 5.2m0 -5.2l-5.2 5.2" stroke="#F08080" fill="none"/><path d="M414.9 266.5h7.2m-3.6 -3.6v7.2m-2.6 -6.2l5.2 5.2m0 -5.2l-5.2 5.2" stroke="#F08080" fill="none"/><path d="M430.9 272.5h7.2m-3.6 -3.6v7.2m-2.6 -6.2l5.2 5.2m0 -5.2l-5.2 5.2" stroke="#F08080" fill="none"/><path d="M409.9 279.5h7.2m-3.6 -3.6v7.2m-2.6 -6.2l5.2 5.2m0 -5.2l-5.2 5.2" stroke="#F08080" fill="none"/><path d="M419.9 278.5h7.2m-3.6 -3.6v7.2m-2.6 -6.2l5.2 5.2m0 -5.2l-5.2 5.2" stroke="#F08080" fill="none"/><path d="M421.9 293.5h7.2m-3.6 -3.6v7.2m-2.6 -6.2l5.2 5.2m0 -5.2l-5.2 5.2" stroke="#F08080" fill="none"/><path d="M427.9 297.5h7.2m-3.6 -3.6v7.2m-2.6 -6.2l5.2 5.2m0 -5.2l-5.2 5.2" stroke="#F08080" fill="none"/><path d="M434.9 307.5h7.2m-3.6 -3.6v7.2m-2.6 -6.2l5.2 5.2m0 -5.2l-5.2 5.2" stroke="#F08080" fill="none"/>
<g stroke="#F08080" stroke-width="1.05" fill="none"><rect x="551" y="308" width="5" height="5"/><path d="M551 310.5h5m-2.5 -2.5v5"/></g><g stroke="#F08080" stroke-width="1.05" fill="none"><rect x="564" y="313" width="5" height="5"/><path d="M564 315.5h5m-2.5 -2.5v5"/></g><g stroke="#F08080" stroke-width="1.05" fill="none"><rect x="551" y="316" width="5" height="5"/><path d="M551 318.5h5m-2.5 -2.5v5"/></g><g stroke="#F08080" stroke-width="1.05" fill="none"><rect x="556" y="319" width="5" height="5"/><path d="M556 321.5h5m-2.5 -2.5v5"/></g><g stroke="#F08080" stroke-width="1.05" fill="none"><rect x="559" y="337" width="5" height="5"/><path d="M559 339.5h5m-2.5 -2.5v5"/></g><g stroke="#F08080" stroke-width="1.05" fill="none"><rect x="566" y="343" width="5" height="5"/><path d="M566 345.5h5m-2.5 -2.5v5"/></g><g stroke="#F08080" stroke-width="1.05" fill="none"><rect x="552" y="346" width="5" height="5"/><path d="M552 348.5h5m-2.5 -2.5v5"/></g><g stroke="#F08080" stroke-width="1.05" fill="none"><rect x="573" y="364" width="5" height="5"/><path d="M573 366.5h5m-2.5 -2.5v5"/></g>
<circle cx="262" cy="396" r="2.45" fill="#FFA500"/><circle cx="259.4" cy="404.8" r="2.45" fill="#FFA500"/><circle cx="260.5" cy="408.2" r="2.45" fill="#FFA500"/><circle cx="264.5" cy="407.6" r="2.45" fill="#FFA500"/><circle cx="267.4" cy="405.3" r="2.45" fill="#FFA500"/><circle cx="270.2" cy="408.2" r="2.45" fill="#FFA500"/><circle cx="273" cy="408.7" r="2.45" fill="#FFA500"/><circle cx="275.3" cy="410.5" r="2.45" fill="#FFA500"/><circle cx="263.4" cy="411.6" r="2.45" fill="#FFA500"/><circle cx="266.8" cy="412.2" r="2.45" fill="#FFA500"/><circle cx="272.5" cy="412.7" r="2.45" fill="#FFA500"/><circle cx="274.2" cy="414.4" r="2.45" fill="#FFA500"/><circle cx="262.8" cy="415.6" r="2.45" fill="#FFA500"/><circle cx="265.6" cy="416.2" r="2.45" fill="#FFA500"/><circle cx="269.6" cy="417.3" r="2.45" fill="#FFA500"/><circle cx="264.5" cy="418.4" r="2.45" fill="#FFA500"/><circle cx="268.5" cy="419.6" r="2.45" fill="#FFA500"/><circle cx="267.4" cy="422.4" r="2.45" fill="#FFA500"/><circle cx="262.5" cy="423.8" r="2.45" fill="#FFA500"/><circle cx="267.1" cy="429.5" r="2.45" fill="#FFA500"/><circle cx="250" cy="429.8" r="2.45" fill="#FFA500"/><circle cx="265.4" cy="437.2" r="2.45" fill="#FFA500"/><circle cx="281.9" cy="403" r="2.45" fill="#FFA500"/>
<rect x="266.1" y="373.1" width="4.8" height="4.8" fill="#FFA500"/><rect x="271.8" y="376.5" width="4.8" height="4.8" fill="#FFA500"/><rect x="279.8" y="375.6" width="4.8" height="4.8" fill="#FFA500"/><rect x="282.6" y="376.5" width="4.8" height="4.8" fill="#FFA500"/><rect x="275.8" y="379" width="4.8" height="4.8" fill="#FFA500"/><rect x="271.8" y="383" width="4.8" height="4.8" fill="#FFA500"/><rect x="274.6" y="385.3" width="4.8" height="4.8" fill="#FFA500"/><rect x="271.8" y="386.4" width="4.8" height="4.8" fill="#FFA500"/><rect x="283.8" y="398.6" width="4.8" height="4.8" fill="#FFA500"/>
<path d="M343.9 324l3.3 5.7h-6.6z" fill="#FFA500"/><path d="M307.1 329l3.3 5.7h-6.6z" fill="#FFA500"/><path d="M304.8 333.5l3.3 5.7h-6.6z" fill="#FFA500"/><path d="M304.1 337.1l3.3 5.7h-6.6z" fill="#FFA500"/><path d="M309.1 339.2l3.3 5.7h-6.6z" fill="#FFA500"/><path d="M313.4 343.5l3.3 5.7h-6.6z" fill="#FFA500"/><path d="M321.2 341.4l3.3 5.7h-6.6z" fill="#FFA500"/><path d="M324.1 345.6l3.3 5.7h-6.6z" fill="#FFA500"/><path d="M307 346.3l3.3 5.7h-6.6z" fill="#FFA500"/><path d="M297.7 350.6l3.3 5.7h-6.6z" fill="#FFA500"/><path d="M304.8 351.3l3.3 5.7h-6.6z" fill="#FFA500"/><path d="M309.8 352.8l3.3 5.7h-6.6z" fill="#FFA500"/><path d="M312.7 354.2l3.3 5.7h-6.6z" fill="#FFA500"/><path d="M317 352.8l3.3 5.7h-6.6z" fill="#FFA500"/><path d="M320.5 351.3l3.3 5.7h-6.6z" fill="#FFA500"/><path d="M322.6 354.9l3.3 5.7h-6.6z" fill="#FFA500"/><path d="M307 354.9l3.3 5.7h-6.6z" fill="#FFA500"/><path d="M334 356.3l3.3 5.7h-6.6z" fill="#FFA500"/><path d="M292 360.6l3.3 5.7h-6.6z" fill="#FFA500"/><path d="M295.6 362l3.3 5.7h-6.6z" fill="#FFA500"/><path d="M299.1 360.6l3.3 5.7h-6.6z" fill="#FFA500"/><path d="M302 359.9l3.3 5.7h-6.6z" fill="#FFA500"/><path d="M298.4 364.1l3.3 5.7h-6.6z" fill="#FFA500"/><path d="M302.7 364.9l3.3 5.7h-6.6z" fill="#FFA500"/><path d="M311.3 363.4l3.3 5.7h-6.6z" fill="#FFA500"/><path d="M317 362.7l3.3 5.7h-6.6z" fill="#FFA500"/><path d="M321.2 360.6l3.3 5.7h-6.6z" fill="#FFA500"/><path d="M324.8 363.4l3.3 5.7h-6.6z" fill="#FFA500"/><path d="M331.9 363.4l3.3 5.7h-6.6z" fill="#FFA500"/><path d="M332.6 367.7l3.3 5.7h-6.6z" fill="#FFA500"/><path d="M326.9 367.7l3.3 5.7h-6.6z" fill="#FFA500"/><path d="M294.2 369.1l3.3 5.7h-6.6z" fill="#FFA500"/><path d="M303.4 368.4l3.3 5.7h-6.6z" fill="#FFA500"/><path d="M319.8 366.3l3.3 5.7h-6.6z" fill="#FFA500"/><path d="M311.7 381.2l3.3 5.7h-6.6z" fill="#FFA500"/><path d="M288.7 382.7l3.3 5.7h-6.6z" fill="#FFA500"/><path d="M323.4 373.4l3.3 5.7h-6.6z" fill="#FFA500"/><path d="M317 375.5l3.3 5.7h-6.6z" fill="#FFA500"/><path d="M306.3 349.9l3.3 5.7h-6.6z" fill="#FFA500"/><path d="M308.4 356.3l3.3 5.7h-6.6z" fill="#FFA500"/><path d="M311.3 350.6l3.3 5.7h-6.6z" fill="#FFA500"/><path d="M314.8 357l3.3 5.7h-6.6z" fill="#FFA500"/><path d="M318.4 357l3.3 5.7h-6.6z" fill="#FFA500"/><path d="M315.5 359.9l3.3 5.7h-6.6z" fill="#FFA500"/><path d="M297 366.3l3.3 5.7h-6.6z" fill="#FFA500"/><path d="M300.6 362.7l3.3 5.7h-6.6z" fill="#FFA500"/><path d="M304.8 362l3.3 5.7h-6.6z" fill="#FFA500"/><path d="M321.9 364.9l3.3 5.7h-6.6z" fill="#FFA500"/><path d="M326.9 361.3l3.3 5.7h-6.6z" fill="#FFA500"/><path d="M318.4 369.1l3.3 5.7h-6.6z" fill="#FFA500"/><path d="M313.4 367l3.3 5.7h-6.6z" fill="#FFA500"/><path d="M301.3 367.7l3.3 5.7h-6.6z" fill="#FFA500"/>
<path d="M271 391l2.4 2.4l-2.4 2.4l-2.4 -2.4z" fill="#FFA500"/><path d="M272.8 399.7l2.4 2.4l-2.4 2.4l-2.4 -2.4z" fill="#FFA500"/>
<circle cx="478.4" cy="158.2" r="2.45" fill="#A020F0"/><circle cx="485.2" cy="164.9" r="2.45" fill="#A020F0"/><circle cx="479.8" cy="175.2" r="2.45" fill="#A020F0"/><circle cx="493.6" cy="183.7" r="2.45" fill="#A020F0"/><circle cx="494.5" cy="189.1" r="2.45" fill="#A020F0"/><circle cx="480.5" cy="186.3" r="2.45" fill="#A020F0"/><circle cx="459.6" cy="185.3" r="2.45" fill="#A020F0"/><circle cx="478.1" cy="193.4" r="2.45" fill="#A020F0"/><circle cx="487.9" cy="193" r="2.45" fill="#A020F0"/><circle cx="486.7" cy="195.6" r="2.45" fill="#A020F0"/><circle cx="493.8" cy="197" r="2.45" fill="#A020F0"/><circle cx="490.1" cy="199.1" r="2.45" fill="#A020F0"/><circle cx="485.5" cy="201" r="2.45" fill="#A020F0"/><circle cx="486" cy="204.4" r="2.45" fill="#A020F0"/><circle cx="457.7" cy="196.3" r="2.45" fill="#A020F0"/><circle cx="457" cy="199.1" r="2.45" fill="#A020F0"/><circle cx="468.9" cy="197.7" r="2.45" fill="#A020F0"/><circle cx="469.9" cy="202.7" r="2.45" fill="#A020F0"/><circle cx="473" cy="204.8" r="2.45" fill="#A020F0"/><circle cx="476" cy="207" r="2.45" fill="#A020F0"/><circle cx="477" cy="209.8" r="2.45" fill="#A020F0"/><circle cx="466.6" cy="210.2" r="2.45" fill="#A020F0"/><circle cx="469.1" cy="215.5" r="2.45" fill="#A020F0"/><circle cx="469.9" cy="218.1" r="2.45" fill="#A020F0"/><circle cx="462.5" cy="220.2" r="2.45" fill="#A020F0"/><circle cx="485.2" cy="216.2" r="2.45" fill="#A020F0"/><circle cx="479.8" cy="219.3" r="2.45" fill="#A020F0"/><circle cx="477.7" cy="221.6" r="2.45" fill="#A020F0"/><circle cx="479.8" cy="224" r="2.45" fill="#A020F0"/><circle cx="458.2" cy="226.2" r="2.45" fill="#A020F0"/><circle cx="474.1" cy="227.9" r="2.45" fill="#A020F0"/><circle cx="481.5" cy="229.3" r="2.45" fill="#A020F0"/><circle cx="459.9" cy="230" r="2.45" fill="#A020F0"/><circle cx="472" cy="232.6" r="2.45" fill="#A020F0"/><circle cx="477" cy="232.6" r="2.45" fill="#A020F0"/><circle cx="466.4" cy="239.7" r="2.45" fill="#A020F0"/><circle cx="469.6" cy="239.7" r="2.45" fill="#A020F0"/><circle cx="474.2" cy="242.8" r="2.45" fill="#A020F0"/><circle cx="475.6" cy="251.4" r="2.45" fill="#A020F0"/>
<rect x="455.9" y="161" width="4.8" height="4.8" fill="#A020F0"/><rect x="476.3" y="240" width="4.8" height="4.8" fill="#A020F0"/><rect x="475.8" y="251.1" width="4.8" height="4.8" fill="#A020F0"/><rect x="535.2" y="302.1" width="4.8" height="4.8" fill="#A020F0"/><rect x="550.4" y="311.2" width="4.8" height="4.8" fill="#A020F0"/>
<circle cx="243.7" cy="247.2" r="2.45" fill="#FF0000"/><circle cx="230" cy="258.3" r="2.45" fill="#FF0000"/><circle cx="246.3" cy="257.4" r="2.45" fill="#FF0000"/><circle cx="225.8" cy="264.2" r="2.45" fill="#FF0000"/><circle cx="233.7" cy="263.7" r="2.45" fill="#FF0000"/><circle cx="241.2" cy="261.4" r="2.45" fill="#FF0000"/><circle cx="234.9" cy="266.5" r="2.45" fill="#FF0000"/><circle cx="238.3" cy="268.2" r="2.45" fill="#FF0000"/><circle cx="235.5" cy="276.8" r="2.45" fill="#FF0000"/><circle cx="253.1" cy="267.1" r="2.45" fill="#FF0000"/>
<rect x="280.3" y="260.2" width="4.8" height="4.8" fill="#FF0000"/><rect x="295.1" y="262" width="4.8" height="4.8" fill="#FF0000"/><rect x="288.1" y="269.1" width="4.8" height="4.8" fill="#FF0000"/><rect x="278.9" y="269.1" width="4.8" height="4.8" fill="#FF0000"/><rect x="281.2" y="271.9" width="4.8" height="4.8" fill="#FF0000"/><rect x="284.6" y="271.9" width="4.8" height="4.8" fill="#FF0000"/><rect x="283.5" y="279.6" width="4.8" height="4.8" fill="#FF0000"/><rect x="280.1" y="281.6" width="4.8" height="4.8" fill="#FF0000"/><rect x="268.1" y="288.4" width="4.8" height="4.8" fill="#FF0000"/><rect x="260.1" y="283.3" width="4.8" height="4.8" fill="#FF0000"/><rect x="264.1" y="282.7" width="4.8" height="4.8" fill="#FF0000"/>
<path d="M255.4 260.6l3.3 5.7h-6.6z" fill="#FF0000"/><path d="M249.1 269.8l3.3 5.7h-6.6z" fill="#FF0000"/><path d="M251.6 275.5l3.3 5.7h-6.6z" fill="#FF0000"/>
<path d="M212.1 264.7l2.4 2.4l-2.4 2.4l-2.4 -2.4z" fill="#FF0000"/><path d="M208.7 268.1l2.4 2.4l-2.4 2.4l-2.4 -2.4z" fill="#FF0000"/><path d="M214.4 269.3l2.4 2.4l-2.4 2.4l-2.4 -2.4z" fill="#FF0000"/><path d="M216.1 266.4l2.4 2.4l-2.4 2.4l-2.4 -2.4z" fill="#FF0000"/><path d="M224.6 268.7l2.4 2.4l-2.4 2.4l-2.4 -2.4z" fill="#FF0000"/><path d="M212.1 266.7l2.4 2.4l-2.4 2.4l-2.4 -2.4z" fill="#FF0000"/>
<path d="M273.8 257.7l5.2 5.2m0 -5.2l-5.2 5.2" stroke="#FF0000" fill="none"/><path d="M263.9 263.4l5.2 5.2m0 -5.2l-5.2 5.2" stroke="#FF0000" fill="none"/><path d="M269.1 266l5.2 5.2m0 -5.2l-5.2 5.2" stroke="#FF0000" fill="none"/><path d="M277.6 265.4l5.2 5.2m0 -5.2l-5.2 5.2" stroke="#FF0000" fill="none"/><path d="M293 264.9l5.2 5.2m0 -5.2l-5.2 5.2" stroke="#FF0000" fill="none"/><path d="M275.9 268.9l5.2 5.2m0 -5.2l-5.2 5.2" stroke="#FF0000" fill="none"/><path d="M262.2 273.4l5.2 5.2m0 -5.2l-5.2 5.2" stroke="#FF0000" fill="none"/><path d="M269.6 275.1l5.2 5.2m0 -5.2l-5.2 5.2" stroke="#FF0000" fill="none"/><path d="M269.1 278.6l5.2 5.2m0 -5.2l-5.2 5.2" stroke="#FF0000" fill="none"/><path d="M265.1 281.4l5.2 5.2m0 -5.2l-5.2 5.2" stroke="#FF0000" fill="none"/><path d="M262.2 284.8l5.2 5.2m0 -5.2l-5.2 5.2" stroke="#FF0000" fill="none"/><path d="M266.8 284.3l5.2 5.2m0 -5.2l-5.2 5.2" stroke="#FF0000" fill="none"/><path d="M271.9 283.7l5.2 5.2m0 -5.2l-5.2 5.2" stroke="#FF0000" fill="none"/><path d="M277.6 282.5l5.2 5.2m0 -5.2l-5.2 5.2" stroke="#FF0000" fill="none"/><path d="M259.9 292.2l5.2 5.2m0 -5.2l-5.2 5.2" stroke="#FF0000" fill="none"/><path d="M264.5 287.1l5.2 5.2m0 -5.2l-5.2 5.2" stroke="#FF0000" fill="none"/><path d="M258.8 286l5.2 5.2m0 -5.2l-5.2 5.2" stroke="#FF0000" fill="none"/>
<g stroke="#FF0000" stroke-width="1.05" fill="none"><circle cx="205.5" cy="263.5" r="2.5"/><path d="M203 263.5h5m-2.5 -2.5v5"/></g><g stroke="#FF0000" stroke-width="1.05" fill="none"><circle cx="204.5" cy="279.5" r="2.5"/><path d="M202 279.5h5m-2.5 -2.5v5"/></g><g stroke="#FF0000" stroke-width="1.05" fill="none"><circle cx="211.5" cy="284.5" r="2.5"/><path d="M209 284.5h5m-2.5 -2.5v5"/></g><g stroke="#FF0000" stroke-width="1.05" fill="none"><circle cx="212.5" cy="276.5" r="2.5"/><path d="M210 276.5h5m-2.5 -2.5v5"/></g><g stroke="#FF0000" stroke-width="1.05" fill="none"><circle cx="220.5" cy="274.5" r="2.5"/><path d="M218 274.5h5m-2.5 -2.5v5"/></g><g stroke="#FF0000" stroke-width="1.05" fill="none"><circle cx="221.5" cy="279.5" r="2.5"/><path d="M219 279.5h5m-2.5 -2.5v5"/></g><g stroke="#FF0000" stroke-width="1.05" fill="none"><circle cx="222.5" cy="283.5" r="2.5"/><path d="M220 283.5h5m-2.5 -2.5v5"/></g>
<path d="M240.9 238.5h7.2m-3.6 -3.6v7.2" stroke="#FF0000" fill="none"/><path d="M248.9 241.5h7.2m-3.6 -3.6v7.2" stroke="#FF0000" fill="none"/><path d="M247.9 247.5h7.2m-3.6 -3.6v7.2" stroke="#FF0000" fill="none"/><path d="M233.9 250.5h7.2m-3.6 -3.6v7.2" stroke="#FF0000" fill="none"/><path d="M259.9 251.5h7.2m-3.6 -3.6v7.2" stroke="#FF0000" fill="none"/><path d="M254.9 259.5h7.2m-3.6 -3.6v7.2" stroke="#FF0000" fill="none"/><path d="M240.9 265.5h7.2m-3.6 -3.6v7.2" stroke="#FF0000" fill="none"/><path d="M245.9 268.5h7.2m-3.6 -3.6v7.2" stroke="#FF0000" fill="none"/><path d="M251.9 269.5h7.2m-3.6 -3.6v7.2" stroke="#FF0000" fill="none"/>
<circle cx="355.4" cy="375.2" r="2.45" fill="#2E8B57"/><circle cx="348.8" cy="394" r="2.45" fill="#2E8B57"/>
<rect x="339.5" y="401.5" width="4.8" height="4.8" fill="#2E8B57"/><rect x="350.2" y="403.8" width="4.8" height="4.8" fill="#2E8B57"/><rect x="328.9" y="407.5" width="4.8" height="4.8" fill="#2E8B57"/><rect x="339" y="408.3" width="4.8" height="4.8" fill="#2E8B57"/><rect x="351" y="409.3" width="4.8" height="4.8" fill="#2E8B57"/><rect x="347.5" y="411" width="4.8" height="4.8" fill="#2E8B57"/><rect x="344.5" y="412.5" width="4.8" height="4.8" fill="#2E8B57"/><rect x="342.5" y="415" width="4.8" height="4.8" fill="#2E8B57"/><rect x="346" y="417" width="4.8" height="4.8" fill="#2E8B57"/><rect x="341" y="418" width="4.8" height="4.8" fill="#2E8B57"/><rect x="338.5" y="420" width="4.8" height="4.8" fill="#2E8B57"/><rect x="335.5" y="421" width="4.8" height="4.8" fill="#2E8B57"/><rect x="342.5" y="421" width="4.8" height="4.8" fill="#2E8B57"/><rect x="332" y="424.5" width="4.8" height="4.8" fill="#2E8B57"/><rect x="336.5" y="423.5" width="4.8" height="4.8" fill="#2E8B57"/><rect x="340" y="424" width="4.8" height="4.8" fill="#2E8B57"/><rect x="344" y="423" width="4.8" height="4.8" fill="#2E8B57"/><rect x="350.5" y="423" width="4.8" height="4.8" fill="#2E8B57"/><rect x="348" y="427" width="4.8" height="4.8" fill="#2E8B57"/><rect x="337.5" y="429" width="4.8" height="4.8" fill="#2E8B57"/><rect x="335" y="426" width="4.8" height="4.8" fill="#2E8B57"/><rect x="343" y="432.9" width="4.8" height="4.8" fill="#2E8B57"/><rect x="339" y="445.9" width="4.8" height="4.8" fill="#2E8B57"/>
<circle cx="221.2" cy="233.5" r="2.45" fill="#CDCD00"/><circle cx="207.5" cy="237.5" r="2.45" fill="#CDCD00"/><circle cx="216.3" cy="245.8" r="2.45" fill="#CDCD00"/><circle cx="226.3" cy="251.5" r="2.45" fill="#CDCD00"/><circle cx="229.8" cy="265.8" r="2.45" fill="#CDCD00"/>
<rect x="247.5" y="193.1" width="4.8" height="4.8" fill="#CDCD00"/><rect x="241.6" y="205.8" width="4.8" height="4.8" fill="#CDCD00"/><rect x="247.5" y="214" width="4.8" height="4.8" fill="#CDCD00"/><rect x="247.1" y="228.3" width="4.8" height="4.8" fill="#CDCD00"/><rect x="238.8" y="214" width="4.8" height="4.8" fill="#CDCD00"/><rect x="235.3" y="215.5" width="4.8" height="4.8" fill="#CDCD00"/><rect x="237.6" y="217.5" width="4.8" height="4.8" fill="#CDCD00"/><rect x="240.5" y="218.9" width="4.8" height="4.8" fill="#CDCD00"/><rect x="238.2" y="220.6" width="4.8" height="4.8" fill="#CDCD00"/><rect x="237" y="225.8" width="4.8" height="4.8" fill="#CDCD00"/><rect x="238.2" y="227.5" width="4.8" height="4.8" fill="#CDCD00"/><rect x="233.1" y="233.2" width="4.8" height="4.8" fill="#CDCD00"/>
<path d="M233.7 201.2l3.3 5.7h-6.6z" fill="#CDCD00"/><path d="M232.6 216.3l3.3 5.7h-6.6z" fill="#CDCD00"/><path d="M236 216.6l3.3 5.7h-6.6z" fill="#CDCD00"/><path d="M224.1 223.4l3.3 5.7h-6.6z" fill="#CDCD00"/><path d="M229.2 222.9l3.3 5.7h-6.6z" fill="#CDCD00"/><path d="M232.6 224.6l3.3 5.7h-6.6z" fill="#CDCD00"/><path d="M227.5 226.5l3.3 5.7h-6.6z" fill="#CDCD00"/><path d="M236 224.6l3.3 5.7h-6.6z" fill="#CDCD00"/><path d="M233.2 229.9l3.3 5.7h-6.6z" fill="#CDCD00"/><path d="M235.5 230.3l3.3 5.7h-6.6z" fill="#CDCD00"/><path d="M243.1 232l3.3 5.7h-6.6z" fill="#CDCD00"/><path d="M238.5 238.3l3.3 5.7h-6.6z" fill="#CDCD00"/>
</g>
<g>
<path d="M376.2 373.6l-4.4 -7.7h8.8z" fill="#A6CEE3" stroke="#000" stroke-width="1.3"/><path d="M327.2 397.2l-4.4 -7.7h8.8z" fill="#1F78B4" stroke="#000" stroke-width="1.3"/><path d="M362.6 396.2l-4.4 -7.7h8.8z" fill="#B2DF8A" stroke="#000" stroke-width="1.3"/><path d="M92.4 463.4l4.3 4.3l-4.3 4.3l-4.3 -4.3z" fill="#33A02C" stroke="#000" stroke-width="1.3"/><path d="M150.7 414.7l4.3 4.3l-4.3 4.3l-4.3 -4.3z" fill="#FB9A99" stroke="#000" stroke-width="1.3"/><path d="M140.6 336.8l4.3 4.3l-4.3 4.3l-4.3 -4.3z" fill="#FDBF6F" stroke="#000" stroke-width="1.3"/><path d="M133.7 339.6l4.3 4.3l-4.3 4.3l-4.3 -4.3z" fill="#FF7F00" stroke="#000" stroke-width="1.3"/><path d="M207.2 344.7l4.3 4.3l-4.3 4.3l-4.3 -4.3z" fill="#CAB2D6" stroke="#000" stroke-width="1.3"/><path d="M276.7 120.5l4.3 4.3l-4.3 4.3l-4.3 -4.3z" fill="#6A3D9A" stroke="#000" stroke-width="1.3"/><path d="M244.7 185.3l4.3 4.3l-4.3 4.3l-4.3 -4.3z" fill="#FFFF99" stroke="#000" stroke-width="1.3"/></g>
<g font-size="11">
<text x="201.5" y="160.8">Ancient North Eurasians</text><text x="81.8" y="335.4">Scandinavian Hunter−Gatherers</text><text x="296.2" y="380.9">Early European Farmers</text><text x="45.5" y="447">Western European Hunter−Gatherers</text></g>
<rect x="34.5" y="6.5" width="665.0" height="664.0" fill="none" stroke="#959595"/>
<g stroke="#a8a8a8" fill="none"><path d="M76 670.5v3.5"/><path d="M225.3 670.5v3.5"/><path d="M374.7 670.5v3.5"/><path d="M524 670.5v3.5"/><path d="M673.4 670.5v3.5"/><path d="M34.5 559h-3.5"/><path d="M34.5 413h-3.5"/><path d="M34.5 267h-3.5"/><path d="M34.5 121h-3.5"/></g>
<g font-size="11" text-anchor="middle"><text x="76.5" y="683">−0.10</text><text x="225.8" y="683">−0.05</text><text x="375.2" y="683">0.00</text><text x="524.5" y="683">0.05</text><text x="673.9" y="683">0.10</text><text transform="translate(27.3 559) rotate(-90)">−0.10</text><text transform="translate(27.3 413) rotate(-90)">−0.05</text><text transform="translate(27.3 267) rotate(-90)">0.00</text><text transform="translate(27.3 121) rotate(-90)">0.05</text><text x="367" y="696">dimension 1</text><text transform="translate(14 338) rotate(-90)">dimension 2</text></g>
<rect x="34.5" y="6.5" width="210.8" height="91.7" fill="#fff" stroke="#959595"/>
<g font-size="11">
<text x="38.0" y="19.8">Ancients (projected)</text>
<path d="M44.6 35.7l-2.8 -4.85h5.6z" fill="#A6CEE3" stroke="#000" stroke-width="1"/><text x="54.5" y="36.3">Stuttgart</text>
<path d="M44.6 48.9l-2.8 -4.85h5.6z" fill="#1F78B4" stroke="#000" stroke-width="1"/><text x="54.5" y="49.5">Skoglund_farmer</text>
<path d="M44.6 62.1l-2.8 -4.85h5.6z" fill="#B2DF8A" stroke="#000" stroke-width="1"/><text x="54.5" y="62.7">Iceman</text>
<path d="M44.6 69l3.2 3.2l-3.2 3.2l-3.2 -3.2z" fill="#33A02C" stroke="#000" stroke-width="1"/><text x="54.5" y="75.9">Loschbour</text>
<path d="M44.6 82.2l3.2 3.2l-3.2 3.2l-3.2 -3.2z" fill="#FB9A99" stroke="#000" stroke-width="1"/><text x="54.5" y="89.1">LaBrana</text>
<path d="M147.6 29.4l3.2 3.2l-3.2 3.2l-3.2 -3.2z" fill="#FDBF6F" stroke="#000" stroke-width="1"/><text x="157.3" y="36.3">Motala12</text>
<path d="M147.6 42.6l3.2 3.2l-3.2 3.2l-3.2 -3.2z" fill="#FF7F00" stroke="#000" stroke-width="1"/><text x="157.3" y="49.5">Motala_merge</text>
<path d="M147.6 55.8l3.2 3.2l-3.2 3.2l-3.2 -3.2z" fill="#CAB2D6" stroke="#000" stroke-width="1"/><text x="157.3" y="62.7">Skoglund_HG</text>
<path d="M147.6 69l3.2 3.2l-3.2 3.2l-3.2 -3.2z" fill="#6A3D9A" stroke="#000" stroke-width="1"/><text x="157.3" y="75.9">MA1</text>
<path d="M147.6 82.2l3.2 3.2l-3.2 3.2l-3.2 -3.2z" fill="#FFFF99" stroke="#000" stroke-width="1"/><text x="157.3" y="89.1">AG2</text>
</g>
<rect x="34.5" y="486.5" width="535.5" height="184" fill="#fff" stroke="#959595"/>
<g font-size="11" stroke-width="1.2">
<text x="37.9" y="500.0">Modern West Eurasians</text>
<circle cx="45" cy="512.8" r="2.45" fill="#0000FF"/><text x="55" y="516.7">Armenian</text>
<rect x="42.6" y="523.6" width="4.8" height="4.8" fill="#0000FF"/><text x="55" y="529.9">Iranian</text>
<path d="M45 535.5l3.3 5.7h-6.6z" fill="#0000FF"/><text x="55" y="543">Turkish</text>
<circle cx="45" cy="552.3" r="2.45" fill="#5F9EA0"/><text x="55" y="556.2">Albanian</text>
<rect x="42.6" y="563.1" width="4.8" height="4.8" fill="#5F9EA0"/><text x="55" y="569.4">Bergamo</text>
<path d="M45 575l3.3 5.7h-6.6z" fill="#5F9EA0"/><text x="55" y="582.5">Bulgarian</text>
<path d="M45 589.4l2.4 2.4l-2.4 2.4l-2.4 -2.4z" fill="#5F9EA0"/><text x="55" y="595.7">Cypriot</text>
<path d="M42.4 602.4l5.2 5.2m0 -5.2l-5.2 5.2" stroke="#5F9EA0" fill="none"/><text x="55" y="608.9">Greek</text>
<g stroke="#5F9EA0" stroke-width="1.05" fill="none"><circle cx="45.5" cy="618.5" r="2.5"/><path d="M43 618.5h5m-2.5 -2.5v5"/></g><text x="55" y="622.1">Italian_South</text>
<path d="M41.9 631.5h7.2m-3.6 -3.6v7.2" stroke="#5F9EA0" fill="none"/><text x="55" y="635.2">Maltese</text>
<path d="M41.9 644.5h7.2m-3.6 -3.6v7.2m-2.6 -6.2l5.2 5.2m0 -5.2l-5.2 5.2" stroke="#5F9EA0" fill="none"/><text x="55" y="648.4">Sicilian</text>
<g stroke="#5F9EA0" stroke-width="1.05" fill="none"><rect x="43" y="655" width="5" height="5"/><path d="M43 657.5h5m-2.5 -2.5v5"/></g><text x="55" y="661.6">Tuscan</text>
<circle cx="150.9" cy="512.8" r="2.45" fill="#1E90FF"/><text x="160.8" y="516.7">English</text>
<rect x="148.5" y="523.6" width="4.8" height="4.8" fill="#1E90FF"/><text x="160.8" y="529.9">French</text>
<path d="M150.9 535.5l3.3 5.7h-6.6z" fill="#1E90FF"/><text x="160.8" y="543">Icelandic</text>
<path d="M150.9 549.9l2.4 2.4l-2.4 2.4l-2.4 -2.4z" fill="#1E90FF"/><text x="160.8" y="556.2">Norwegian</text>
<path d="M148.3 562.9l5.2 5.2m0 -5.2l-5.2 5.2" stroke="#1E90FF" fill="none"/><text x="160.8" y="569.4">Orcadian</text>
<g stroke="#1E90FF" stroke-width="1.05" fill="none"><circle cx="150.5" cy="578.5" r="2.5"/><path d="M148 578.5h5m-2.5 -2.5v5"/></g><text x="160.8" y="582.5">Scottish</text>
<circle cx="150.9" cy="591.8" r="2.45" fill="#B22222"/><text x="160.8" y="595.7">BedouinA</text>
<rect x="148.5" y="602.6" width="4.8" height="4.8" fill="#B22222"/><text x="160.8" y="608.9">BedouinB</text>
<path d="M150.9 614.6l3.3 5.7h-6.6z" fill="#B22222"/><text x="160.8" y="622.1">Jordanian</text>
<path d="M150.9 628.9l2.4 2.4l-2.4 2.4l-2.4 -2.4z" fill="#B22222"/><text x="160.8" y="635.2">Palestinian</text>
<path d="M148.3 641.9l5.2 5.2m0 -5.2l-5.2 5.2" stroke="#B22222" fill="none"/><text x="160.8" y="648.4">Saudi</text>
<g stroke="#B22222" stroke-width="1.05" fill="none"><circle cx="150.5" cy="657.5" r="2.5"/><path d="M148 657.5h5m-2.5 -2.5v5"/></g><text x="160.8" y="661.6">Syrian</text>
<circle cx="256.8" cy="512.8" r="2.45" fill="#00FF00"/><text x="266.7" y="516.7">Abkhasian</text>
<rect x="254.4" y="523.6" width="4.8" height="4.8" fill="#00FF00"/><text x="266.7" y="529.9">Adygei</text>
<path d="M256.8 535.5l3.3 5.7h-6.6z" fill="#00FF00"/><text x="266.7" y="543">Balkar</text>
<path d="M256.8 549.9l2.4 2.4l-2.4 2.4l-2.4 -2.4z" fill="#00FF00"/><text x="266.7" y="556.2">Chechen</text>
<path d="M254.2 562.9l5.2 5.2m0 -5.2l-5.2 5.2" stroke="#00FF00" fill="none"/><text x="266.7" y="569.4">Georgian</text>
<g stroke="#00FF00" stroke-width="1.05" fill="none"><circle cx="256.5" cy="578.5" r="2.5"/><path d="M254 578.5h5m-2.5 -2.5v5"/></g><text x="266.7" y="582.5">Kumyk</text>
<path d="M252.9 591.5h7.2m-3.6 -3.6v7.2" stroke="#00FF00" fill="none"/><text x="266.7" y="595.7">Lezgin</text>
<path d="M252.9 604.5h7.2m-3.6 -3.6v7.2m-2.6 -6.2l5.2 5.2m0 -5.2l-5.2 5.2" stroke="#00FF00" fill="none"/><text x="266.7" y="608.9">North_Ossetian</text>
<circle cx="256.8" cy="618.2" r="2.45" fill="#F08080"/><text x="266.7" y="622.1">Ashkenazi_Jew</text>
<rect x="254.4" y="628.9" width="4.8" height="4.8" fill="#F08080"/><text x="266.7" y="635.2">Georgian_Jew</text>
<path d="M256.8 640.9l3.3 5.7h-6.6z" fill="#F08080"/><text x="266.7" y="648.4">Iranian_Jew</text>
<path d="M256.8 655.3l2.4 2.4l-2.4 2.4l-2.4 -2.4z" fill="#F08080"/><text x="266.7" y="661.6">Iraqi_Jew</text>
<path d="M360.1 510.2l5.2 5.2m0 -5.2l-5.2 5.2" stroke="#F08080" fill="none"/><text x="372.5" y="516.7">Libyan_Jew</text>
<g stroke="#F08080" stroke-width="1.05" fill="none"><circle cx="362.5" cy="525.5" r="2.5"/><path d="M360 525.5h5m-2.5 -2.5v5"/></g><text x="372.5" y="529.9">Moroccan_Jew</text>
<path d="M358.9 539.5h7.2m-3.6 -3.6v7.2" stroke="#F08080" fill="none"/><text x="372.5" y="543">Tunisian_Jew</text>
<path d="M358.9 552.5h7.2m-3.6 -3.6v7.2m-2.6 -6.2l5.2 5.2m0 -5.2l-5.2 5.2" stroke="#F08080" fill="none"/><text x="372.5" y="556.2">Turkish_Jew</text>
<g stroke="#F08080" stroke-width="1.05" fill="none"><rect x="360" y="563" width="5" height="5"/><path d="M360 565.5h5m-2.5 -2.5v5"/></g><text x="372.5" y="569.4">Yemenite_Jew</text>
<circle cx="362.7" cy="578.6" r="2.45" fill="#FFA500"/><text x="372.5" y="582.5">Basque</text>
<rect x="360.3" y="589.4" width="4.8" height="4.8" fill="#FFA500"/><text x="372.5" y="595.7">French_South</text>
<path d="M362.7 601.4l3.3 5.7h-6.6z" fill="#FFA500"/><text x="372.5" y="608.9">Spanish</text>
<path d="M362.7 615.8l2.4 2.4l-2.4 2.4l-2.4 -2.4z" fill="#FFA500"/><text x="372.5" y="622.1">Spanish_North</text>
<circle cx="362.7" cy="631.3" r="2.45" fill="#A020F0"/><text x="372.5" y="635.2">Druze</text>
<rect x="360.3" y="642.1" width="4.8" height="4.8" fill="#A020F0"/><text x="372.5" y="648.4">Lebanese</text>
<circle cx="362.7" cy="657.7" r="2.45" fill="#FF0000"/><text x="372.5" y="661.6">Belarusian</text>
<rect x="466.2" y="510.4" width="4.8" height="4.8" fill="#FF0000"/><text x="478.4" y="516.7">Croatian</text>
<path d="M468.6 522.4l3.3 5.7h-6.6z" fill="#FF0000"/><text x="478.4" y="529.9">Czech</text>
<path d="M468.6 536.7l2.4 2.4l-2.4 2.4l-2.4 -2.4z" fill="#FF0000"/><text x="478.4" y="543">Estonian</text>
<path d="M466 549.7l5.2 5.2m0 -5.2l-5.2 5.2" stroke="#FF0000" fill="none"/><text x="478.4" y="556.2">Hungarian</text>
<g stroke="#FF0000" stroke-width="1.05" fill="none"><circle cx="468.5" cy="565.5" r="2.5"/><path d="M466 565.5h5m-2.5 -2.5v5"/></g><text x="478.4" y="569.4">Lithuanian</text>
<path d="M464.9 578.5h7.2m-3.6 -3.6v7.2" stroke="#FF0000" fill="none"/><text x="478.4" y="582.5">Ukrainian</text>
<circle cx="468.6" cy="591.8" r="2.45" fill="#2E8B57"/><text x="478.4" y="595.7">Canary_Islanders</text>
<rect x="466.2" y="602.6" width="4.8" height="4.8" fill="#2E8B57"/><text x="478.4" y="608.9">Sardinian</text>
<circle cx="468.6" cy="618.2" r="2.45" fill="#CDCD00"/><text x="478.4" y="622.1">Finnish</text>
<rect x="466.2" y="628.9" width="4.8" height="4.8" fill="#CDCD00"/><text x="478.4" y="635.2">Mordovian</text>
<path d="M468.6 640.9l3.3 5.7h-6.6z" fill="#CDCD00"/><text x="478.4" y="648.4">Russian</text>
</g>
</svg>
</body></html>
